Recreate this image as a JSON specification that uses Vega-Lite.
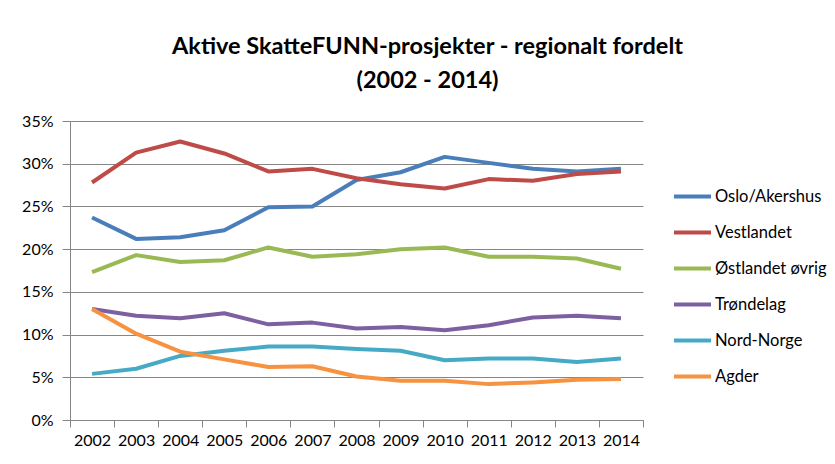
{
  "$schema": "https://vega.github.io/schema/vega-lite/v6.json",
  "width": 573,
  "height": 299,
  "autosize": {"type": "none"},
  "padding": {"left": 70, "top": 121, "right": 192, "bottom": 44},
  "background": "white",
  "title": {
    "text": ["Aktive SkatteFUNN-prosjekter - regionalt fordelt", "(2002 - 2014)"],
    "font": "Lato",
    "fontSize": 23.5,
    "fontWeight": "bold",
    "color": "#000000",
    "lineHeight": 34,
    "anchor": "middle",
    "frame": "group",
    "dx": 71,
    "offset": 21
  },
  "datasets": {
    "d": [
      {"year": "2002", "region": "Oslo/Akershus", "value": 0.237},
      {"year": "2003", "region": "Oslo/Akershus", "value": 0.212},
      {"year": "2004", "region": "Oslo/Akershus", "value": 0.214},
      {"year": "2005", "region": "Oslo/Akershus", "value": 0.222},
      {"year": "2006", "region": "Oslo/Akershus", "value": 0.249},
      {"year": "2007", "region": "Oslo/Akershus", "value": 0.250},
      {"year": "2008", "region": "Oslo/Akershus", "value": 0.281},
      {"year": "2009", "region": "Oslo/Akershus", "value": 0.290},
      {"year": "2010", "region": "Oslo/Akershus", "value": 0.308},
      {"year": "2011", "region": "Oslo/Akershus", "value": 0.301},
      {"year": "2012", "region": "Oslo/Akershus", "value": 0.294},
      {"year": "2013", "region": "Oslo/Akershus", "value": 0.291},
      {"year": "2014", "region": "Oslo/Akershus", "value": 0.294},
      {"year": "2002", "region": "Vestlandet", "value": 0.278},
      {"year": "2003", "region": "Vestlandet", "value": 0.313},
      {"year": "2004", "region": "Vestlandet", "value": 0.326},
      {"year": "2005", "region": "Vestlandet", "value": 0.312},
      {"year": "2006", "region": "Vestlandet", "value": 0.291},
      {"year": "2007", "region": "Vestlandet", "value": 0.294},
      {"year": "2008", "region": "Vestlandet", "value": 0.283},
      {"year": "2009", "region": "Vestlandet", "value": 0.276},
      {"year": "2010", "region": "Vestlandet", "value": 0.271},
      {"year": "2011", "region": "Vestlandet", "value": 0.282},
      {"year": "2012", "region": "Vestlandet", "value": 0.280},
      {"year": "2013", "region": "Vestlandet", "value": 0.288},
      {"year": "2014", "region": "Vestlandet", "value": 0.291},
      {"year": "2002", "region": "Østlandet øvrig", "value": 0.173},
      {"year": "2003", "region": "Østlandet øvrig", "value": 0.193},
      {"year": "2004", "region": "Østlandet øvrig", "value": 0.185},
      {"year": "2005", "region": "Østlandet øvrig", "value": 0.187},
      {"year": "2006", "region": "Østlandet øvrig", "value": 0.202},
      {"year": "2007", "region": "Østlandet øvrig", "value": 0.191},
      {"year": "2008", "region": "Østlandet øvrig", "value": 0.194},
      {"year": "2009", "region": "Østlandet øvrig", "value": 0.200},
      {"year": "2010", "region": "Østlandet øvrig", "value": 0.202},
      {"year": "2011", "region": "Østlandet øvrig", "value": 0.191},
      {"year": "2012", "region": "Østlandet øvrig", "value": 0.191},
      {"year": "2013", "region": "Østlandet øvrig", "value": 0.189},
      {"year": "2014", "region": "Østlandet øvrig", "value": 0.177},
      {"year": "2002", "region": "Trøndelag", "value": 0.130},
      {"year": "2003", "region": "Trøndelag", "value": 0.122},
      {"year": "2004", "region": "Trøndelag", "value": 0.119},
      {"year": "2005", "region": "Trøndelag", "value": 0.125},
      {"year": "2006", "region": "Trøndelag", "value": 0.112},
      {"year": "2007", "region": "Trøndelag", "value": 0.114},
      {"year": "2008", "region": "Trøndelag", "value": 0.107},
      {"year": "2009", "region": "Trøndelag", "value": 0.109},
      {"year": "2010", "region": "Trøndelag", "value": 0.105},
      {"year": "2011", "region": "Trøndelag", "value": 0.111},
      {"year": "2012", "region": "Trøndelag", "value": 0.120},
      {"year": "2013", "region": "Trøndelag", "value": 0.122},
      {"year": "2014", "region": "Trøndelag", "value": 0.119},
      {"year": "2002", "region": "Nord-Norge", "value": 0.054},
      {"year": "2003", "region": "Nord-Norge", "value": 0.060},
      {"year": "2004", "region": "Nord-Norge", "value": 0.075},
      {"year": "2005", "region": "Nord-Norge", "value": 0.081},
      {"year": "2006", "region": "Nord-Norge", "value": 0.086},
      {"year": "2007", "region": "Nord-Norge", "value": 0.086},
      {"year": "2008", "region": "Nord-Norge", "value": 0.083},
      {"year": "2009", "region": "Nord-Norge", "value": 0.081},
      {"year": "2010", "region": "Nord-Norge", "value": 0.070},
      {"year": "2011", "region": "Nord-Norge", "value": 0.072},
      {"year": "2012", "region": "Nord-Norge", "value": 0.072},
      {"year": "2013", "region": "Nord-Norge", "value": 0.068},
      {"year": "2014", "region": "Nord-Norge", "value": 0.072},
      {"year": "2002", "region": "Agder", "value": 0.130},
      {"year": "2003", "region": "Agder", "value": 0.101},
      {"year": "2004", "region": "Agder", "value": 0.080},
      {"year": "2005", "region": "Agder", "value": 0.071},
      {"year": "2006", "region": "Agder", "value": 0.062},
      {"year": "2007", "region": "Agder", "value": 0.063},
      {"year": "2008", "region": "Agder", "value": 0.051},
      {"year": "2009", "region": "Agder", "value": 0.046},
      {"year": "2010", "region": "Agder", "value": 0.046},
      {"year": "2011", "region": "Agder", "value": 0.042},
      {"year": "2012", "region": "Agder", "value": 0.044},
      {"year": "2013", "region": "Agder", "value": 0.047},
      {"year": "2014", "region": "Agder", "value": 0.048}
    ]
  },
  "data": {"name": "d"},
  "mark": {"type": "line", "strokeWidth": 4, "strokeJoin": "round", "strokeCap": "butt"},
  "encoding": {
    "x": {
      "field": "year",
      "type": "ordinal",
      "bandPosition": 0.5,
      "scale": {"type": "band", "paddingInner": 0, "paddingOuter": 0},
      "axis": {
        "title": null,
        "labelAngle": 0,
        "tickBand": "extent",
        "grid": false,
        "domainColor": "#868686",
        "tickColor": "#868686",
        "tickSize": 7,
        "labelPadding": 5,
        "labelFont": "Lato",
        "labelFontSize": 16,
        "labelColor": "#000000"
      }
    },
    "y": {
      "field": "value",
      "type": "quantitative",
      "scale": {"domain": [0, 0.35], "nice": false, "zero": true},
      "axis": {
        "title": null,
        "values": [0, 0.05, 0.1, 0.15, 0.2, 0.25, 0.3, 0.35],
        "format": ".0%",
        "grid": true,
        "gridColor": "#868686",
        "gridWidth": 1,
        "domainColor": "#868686",
        "tickColor": "#868686",
        "tickSize": 8,
        "labelPadding": 9,
        "labelFont": "Lato",
        "labelFontSize": 16,
        "labelColor": "#000000"
      }
    },
    "color": {
      "field": "region",
      "type": "nominal",
      "scale": {
        "domain": ["Oslo/Akershus", "Vestlandet", "Østlandet øvrig", "Trøndelag", "Nord-Norge", "Agder"],
        "range": ["#4A7EBB", "#BE4B48", "#98B954", "#7D60A0", "#46AAC5", "#F69240"]
      },
      "legend": {
        "title": null,
        "orient": "none",
        "legendX": 602,
        "legendY": 55,
        "padding": 0,
        "symbolType": "stroke",
        "symbolSize": 1369,
        "symbolStrokeWidth": 4,
        "labelOffset": 2,
        "rowPadding": 7,
        "labelFont": "Lato",
        "labelFontSize": 16.5,
        "labelColor": "#000000"
      }
    }
  },
  "config": {
    "view": {"stroke": null},
    "axis": {"domainWidth": 1, "tickWidth": 1}
  }
}
